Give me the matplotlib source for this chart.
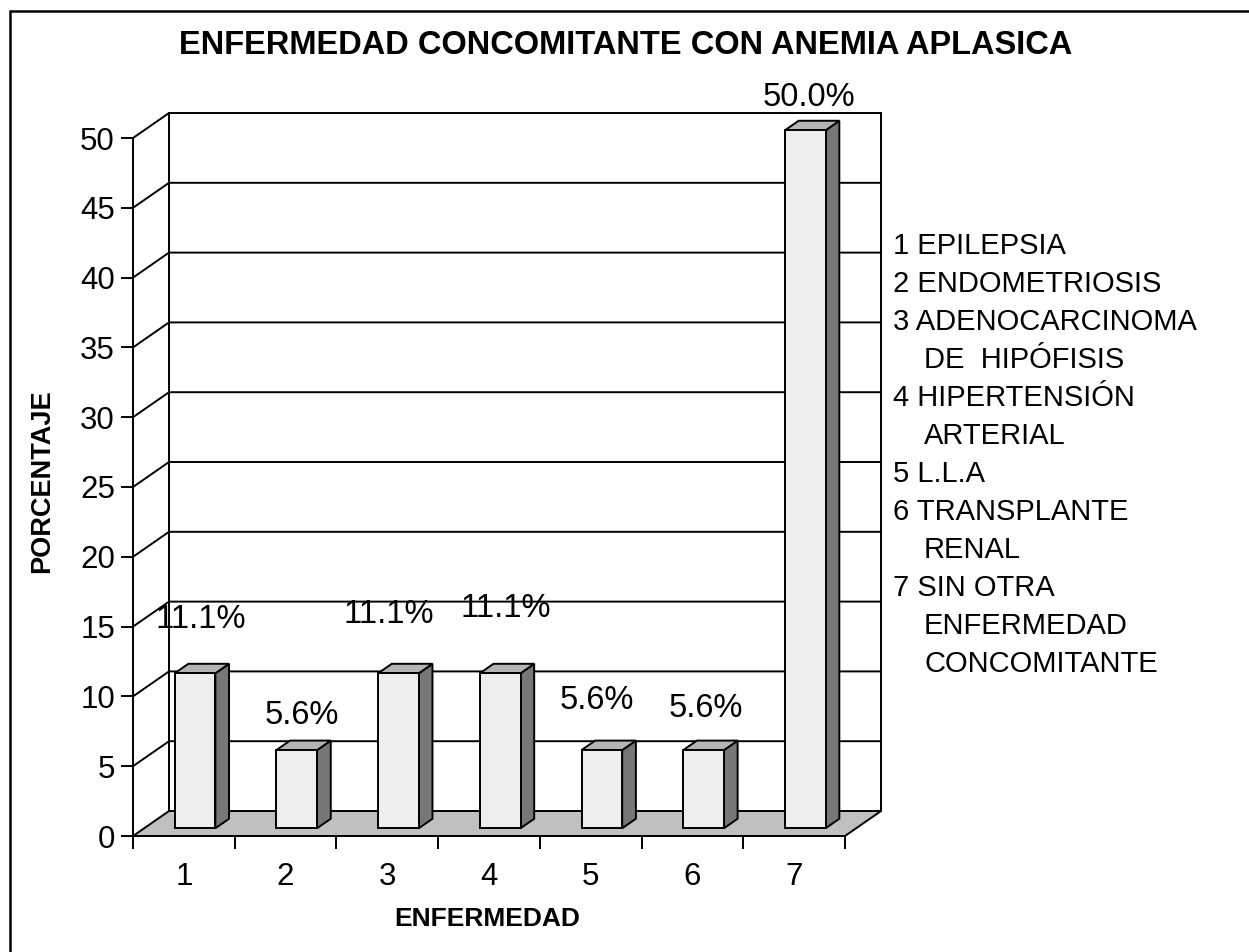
import matplotlib
matplotlib.use("Agg")
import matplotlib.pyplot as plt
from matplotlib.patches import Polygon, Rectangle

plt.rcParams['font.family'] = ['Liberation Sans', 'DejaVu Sans']

categories = ['1', '2', '3', '4', '5', '6', '7']
values = [11.1, 5.6, 11.1, 11.1, 5.6, 5.6, 50.0]
value_labels = ['11.1%', '5.6%', '11.1%', '11.1%', '5.6%', '5.6%', '50.0%']
yticks = [0, 5, 10, 15, 20, 25, 30, 35, 40, 45, 50]
legend_lines = ['1 EPILEPSIA', '2 ENDOMETRIOSIS', '3 ADENOCARCINOMA', 'DE  HIPÓFISIS',
                '4 HIPERTENSIÓN', 'ARTERIAL', '5 L.L.A', '6 TRANSPLANTE', 'RENAL',
                '7 SIN OTRA', 'ENFERMEDAD', 'CONCOMITANTE']
legend_indent = [False, False, False, True, False, True, False, False, True, False, True, True]

# label nudges (excel placed them a bit unevenly)
label_dx = [0.17, 0.16, 0.01, 0.16, 0.06, 0.13, 0.15]
label_dy = [4.4, 3.0, 4.8, 5.2, 4.1, 3.5, 2.9]

W, H = 1249, 952
fig = plt.figure(figsize=(W / 100, H / 100), dpi=100)
ax = fig.add_axes([133 / W, 1 - 836 / H, 712 / W, 698 / H])
ax.set_xlim(0, len(categories))
ax.set_ylim(0, 50)

DX, DY = 0.354, 1.79       # depth of the 3d box in data units
f0, f1 = 0.31, 0.69        # depth span of the bars
bw = 0.4
lw = 1.4
n = len(categories)

# floor
ax.add_patch(Polygon([(0, 0), (n, 0), (n + DX, DY), (DX, DY)], closed=True,
                     facecolor='#c0c0c0', edgecolor='black', lw=lw, clip_on=False, zorder=1))
# walls and gridlines
for t in yticks[1:]:
    ax.plot([0, DX, n + DX], [t, t + DY, t + DY], color='black', lw=lw, clip_on=False, zorder=2)
ax.plot([DX, DX], [DY, 50 + DY], color='black', lw=lw, clip_on=False, zorder=2)
ax.plot([n + DX, n + DX], [DY, 50 + DY], color='black', lw=lw, clip_on=False, zorder=2)

# bars
for i, v in enumerate(values):
    xl = i + 0.5 - bw / 2 + f0 * DX
    xr = xl + bw
    y0 = f0 * DY
    dd = (f1 - f0) * DX
    de = (f1 - f0) * DY
    ax.add_patch(Polygon([(xr, y0), (xr + dd, y0 + de), (xr + dd, v + y0 + de), (xr, v + y0)],
                         closed=True, facecolor='#777777', edgecolor='black', lw=lw,
                         clip_on=False, zorder=3))
    ax.add_patch(Polygon([(xl, v + y0), (xr, v + y0), (xr + dd, v + y0 + de), (xl + dd, v + y0 + de)],
                         closed=True, facecolor='#b4b4b4', edgecolor='black', lw=lw,
                         clip_on=False, zorder=3))
    ax.add_patch(Rectangle((xl, y0), bw, v, facecolor='#eeeeee', edgecolor='black', lw=lw,
                           clip_on=False, zorder=4))
    ax.text(i + 0.5 + label_dx[i], v + label_dy[i], value_labels[i], fontsize=23.5,
            ha='center', va='center', zorder=5)

# axes / ticks
for s in ['top', 'right']:
    ax.spines[s].set_visible(False)
ax.spines['left'].set_linewidth(lw)
ax.spines['bottom'].set_linewidth(lw)
ax.spines['left'].set_zorder(6)
ax.set_yticks(yticks)
ax.set_yticklabels([str(t) for t in yticks])
ax.set_xticks(range(n + 1))
ax.set_xticklabels([])
ax.set_xticks([i + 0.5 for i in range(n)], minor=True)
ax.set_xticklabels(categories, minor=True)
ax.tick_params(axis='y', length=9, width=lw, pad=4, labelsize=22.5)
ax.tick_params(axis='x', which='major', length=9, width=lw)
ax.tick_params(axis='x', which='minor', length=0, pad=19, labelsize=22.5)
ax.patch.set_visible(False)

fig.text(626 / W, 1 - 45 / H, 'ENFERMEDAD CONCOMITANTE CON ANEMIA APLASICA',
         fontsize=23.5, weight='bold', ha='center', va='center')
fig.text(42 / W, 1 - 481 / H, 'PORCENTAJE', fontsize=19.5, weight='bold',
         rotation=90, ha='center', va='center')
fig.text(487 / W, 1 - 919 / H, 'ENFERMEDAD', fontsize=19, weight='bold',
         ha='center', va='center')

for k, line in enumerate(legend_lines):
    x = 924 if legend_indent[k] else 893
    fig.text(x / W, 1 - (246 + k * 38.0) / H, line, fontsize=21, ha='left', va='center')

# outer frame (runs off the right and bottom edges)
fig.add_artist(Rectangle((9.5 / W, -0.1), 2, 1.1 - 11 / H, transform=fig.transFigure,
                         fill=False, edgecolor='black', lw=1.8))

fig.savefig('out.png', dpi=100)
